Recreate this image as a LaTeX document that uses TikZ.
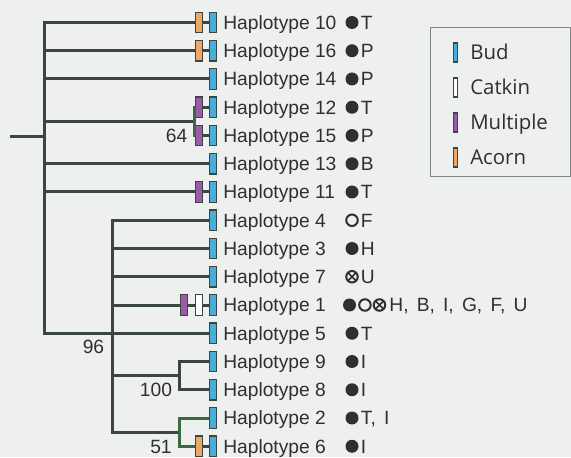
\documentclass[tikz,border=0pt]{standalone}
\usepackage{fontspec}
\setmainfont{Liberation Sans}
\newfontfamily\legendfont{Open Sans}
\newfontfamily\widefont[WordSpace=1.54]{Liberation Sans}
\definecolor{paper}{HTML}{EEF0EF}
\definecolor{treegrey}{HTML}{3C4640}
\definecolor{treegreen}{HTML}{3A6A3E}
\definecolor{budblue}{HTML}{48AEDA}
\definecolor{multipurple}{HTML}{9A5BA8}
\definecolor{acornorange}{HTML}{F0A764}
\definecolor{inkgrey}{HTML}{2D302F}
\definecolor{framegrey}{HTML}{808583}
\usetikzlibrary{positioning}

\begin{document}
\begin{tikzpicture}[
    x=1pt, y=-1pt,
    twig/.style={draw=treegrey, line width=3pt},
    greentwig/.style={draw=treegreen, line width=3pt},
    sample/.style={rectangle, draw=treegrey, line width=1.2pt, inner sep=0pt,
                   minimum width=7pt, minimum height=20.5pt},
    bud/.style={sample, fill=budblue},
    catkin/.style={sample, fill=white},
    multi/.style={sample, fill=multipurple},
    acorn/.style={sample, fill=acornorange},
    hap/.style={inner sep=0pt, text height=13.75pt, text depth=0pt, text=inkgrey,
                font=\fontsize{19.2}{22}\selectfont},
    widehap/.style={hap, font=\widefont\fontsize{19.2}{22}\selectfont},
    filldot/.style={circle, fill=inkgrey, inner sep=0pt, minimum size=13pt},
    opendot/.style={circle, draw=inkgrey, line width=2pt, inner sep=0pt, minimum size=11.5pt},
    crossdot/.style={opendot, path picture={
        \draw[inkgrey, line width=1.7pt]
          (path picture bounding box.north west) -- (path picture bounding box.south east)
          (path picture bounding box.south west) -- (path picture bounding box.north east);}},
    keybox/.style={minimum width=4pt, minimum height=19pt},
    keytext/.style={inner sep=0pt, text height=14.6pt, text depth=0pt, text=inkgrey,
                font=\legendfont\fontsize{20.4}{24}\selectfont}
]
    \fill[paper] (0,0) rectangle (571,457);

    % leaves, top to bottom
    \node[bud] (b10) at (213,22.5) {};
    \node[acorn, left=6pt of b10] (a10) {};
    \node[hap, right=6pt of b10] (h10) {Haplotype 10};
    \node[filldot] (d10) at (352,22.5) {};
    \node[hap, right=2pt of d10] (s10) {T};

    \node[bud] (b16) at (213,50.75) {};
    \node[acorn, left=6pt of b16] (a16) {};
    \node[hap, right=6pt of b16] (h16) {Haplotype 16};
    \node[filldot] (d16) at (352,50.75) {};
    \node[hap, right=2pt of d16] (s16) {P};

    \node[bud] (b14) at (213,79) {};
    \node[hap, right=6pt of b14] (h14) {Haplotype 14};
    \node[filldot] (d14) at (352,79) {};
    \node[hap, right=2pt of d14] (s14) {P};

    \node[bud] (b12) at (213,107.25) {};
    \node[multi, left=6pt of b12] (u12) {};
    \node[hap, right=6pt of b12] (h12) {Haplotype 12};
    \node[filldot] (d12) at (352,107.25) {};
    \node[hap, right=2pt of d12] (s12) {T};

    \node[bud] (b15) at (213,135.5) {};
    \node[multi, left=6pt of b15] (u15) {};
    \node[hap, right=6pt of b15] (h15) {Haplotype 15};
    \node[filldot] (d15) at (352,135.5) {};
    \node[hap, right=2pt of d15] (s15) {P};

    \node[bud] (b13) at (213,163.75) {};
    \node[hap, right=6pt of b13] (h13) {Haplotype 13};
    \node[filldot] (d13) at (352,163.75) {};
    \node[hap, right=2pt of d13] (s13) {B};

    \node[bud] (b11) at (213,192) {};
    \node[multi, left=6pt of b11] (u11) {};
    \node[hap, right=6pt of b11] (h11) {Haplotype 11};
    \node[filldot] (d11) at (352,192) {};
    \node[hap, right=2pt of d11] (s11) {T};

    \node[bud] (b4) at (213,220.25) {};
    \node[hap, right=6pt of b4] (h4) {Haplotype 4};
    \node[opendot] (d4) at (352,220.25) {};
    \node[hap, right=2pt of d4] (s4) {F};

    \node[bud] (b3) at (213,248.5) {};
    \node[hap, right=6pt of b3] (h3) {Haplotype 3};
    \node[filldot] (d3) at (352,248.5) {};
    \node[hap, right=2pt of d3] (s3) {H};

    \node[bud] (b7) at (213,276.75) {};
    \node[hap, right=6pt of b7] (h7) {Haplotype 7};
    \node[crossdot] (d7) at (352,276.75) {};
    \node[hap, right=2pt of d7] (s7) {U};

    \node[bud] (b1) at (213,305) {};
    \node[catkin, left=6pt of b1] (k1) {};
    \node[multi, left=7pt of k1] (u1) {};
    \node[hap, right=6pt of b1] (h1) {Haplotype 1};
    \node[filldot] (d1) at (349.5,305) {};
    \node[opendot, right=2pt of d1] (o1) {};
    \node[crossdot, right=1pt of o1] (x1) {};
    \node[widehap, right=3pt of x1] (s1) {H, B, I, G, F, U};

    \node[bud] (b5) at (213,333.25) {};
    \node[hap, right=6pt of b5] (h5) {Haplotype 5};
    \node[filldot] (d5) at (352,333.25) {};
    \node[hap, right=2pt of d5] (s5) {T};

    \node[bud] (b9) at (213,361.5) {};
    \node[hap, right=6pt of b9] (h9) {Haplotype 9};
    \node[filldot] (d9) at (352,361.5) {};
    \node[hap, right=2pt of d9] (s9) {I};

    \node[bud] (b8) at (213,389.75) {};
    \node[hap, right=6pt of b8] (h8) {Haplotype 8};
    \node[filldot] (d8) at (352,389.75) {};
    \node[hap, right=2pt of d8] (s8) {I};

    \node[bud] (b2) at (213,418) {};
    \node[hap, right=6pt of b2] (h2) {Haplotype 2};
    \node[filldot] (d2) at (352,418) {};
    \node[widehap, right=2pt of d2] (s2) {T, I};

    \node[bud] (b6) at (213,446.25) {};
    \node[acorn, left=6pt of b6] (a6) {};
    \node[hap, right=6pt of b6] (h6) {Haplotype 6};
    \node[filldot] (d6) at (352,446.25) {};
    \node[hap, right=2pt of d6] (s6) {I};

    % inner nodes of the tree
    \coordinate (rootstub) at (10,136.5);
    \coordinate (main) at (44,136.5);
    \coordinate (c64) at (194,121.4);
    \coordinate (c96) at (112,333.25);
    \coordinate (c100) at (179,375.6);
    \coordinate (c51) at (179,432.1);

    % branches
    \draw[twig] (rootstub) -- (main);
    \draw[twig] (main) |- (a10);
    \draw[twig] (main) |- (a16);
    \draw[twig] (main) |- (b14);
    \draw[twig] (main) |- (c64);
    \draw[twig] (main) |- (b13);
    \draw[twig] (main) |- (u11);
    \draw[twig] (main) |- (c96);
    \draw[greentwig] (c64) |- (u12);
    \draw[greentwig] (c64) |- (u15);
    \draw[twig] (c96) |- (b4);
    \draw[twig] (c96) |- (b3);
    \draw[twig] (c96) |- (b7);
    \draw[twig] (c96) |- (u1);
    \draw[twig] (c96) -- (b5);
    \draw[twig] (c96) |- (c100);
    \draw[twig] (c96) |- (c51);
    \draw[twig] (c100) |- (b9);
    \draw[twig] (c100) |- (b8);
    \draw[greentwig] (c51) |- (b2);
    \draw[greentwig] (c51) |- (a6);

    % links between samples of one haplotype
    \draw[twig] (a10) -- (b10);
    \draw[twig] (a16) -- (b16);
    \draw[twig] (u12) -- (b12);
    \draw[twig] (u15) -- (b15);
    \draw[twig] (u11) -- (b11);
    \draw[twig] (u1) -- (k1);
    \draw[twig] (k1) -- (b1);
    \draw[twig] (a6) -- (b6);

    % bootstrap values
    \node[hap, anchor=east] (bs64) at (187.5,135.5) {64};
    \node[hap] (bs96) at (93.5,346.7) {96};
    \node[hap] (bs100) at (156,390) {100};
    \node[hap] (bs51) at (161,446.5) {51};

    % legend
    \node[draw=framegrey, line width=1pt, minimum width=140pt, minimum height=149pt,
          inner sep=0pt] (legend) at (500,102.5) {};
    \node[bud, keybox] (kbud) at (455.5,52.5) {};
    \node[keytext, right=12pt of kbud] (tbud) {Bud};
    \node[catkin, keybox] (kcatkin) at (455.5,87.5) {};
    \node[keytext, right=12pt of kcatkin] (tcatkin) {Catkin};
    \node[multi, keybox] (kmulti) at (455.5,122.5) {};
    \node[keytext, right=12pt of kmulti] (tmulti) {Multiple};
    \node[acorn, keybox] (kacorn) at (455.5,157.5) {};
    \node[keytext, right=12pt of kacorn] (tacorn) {Acorn};
\end{tikzpicture}
\end{document}
